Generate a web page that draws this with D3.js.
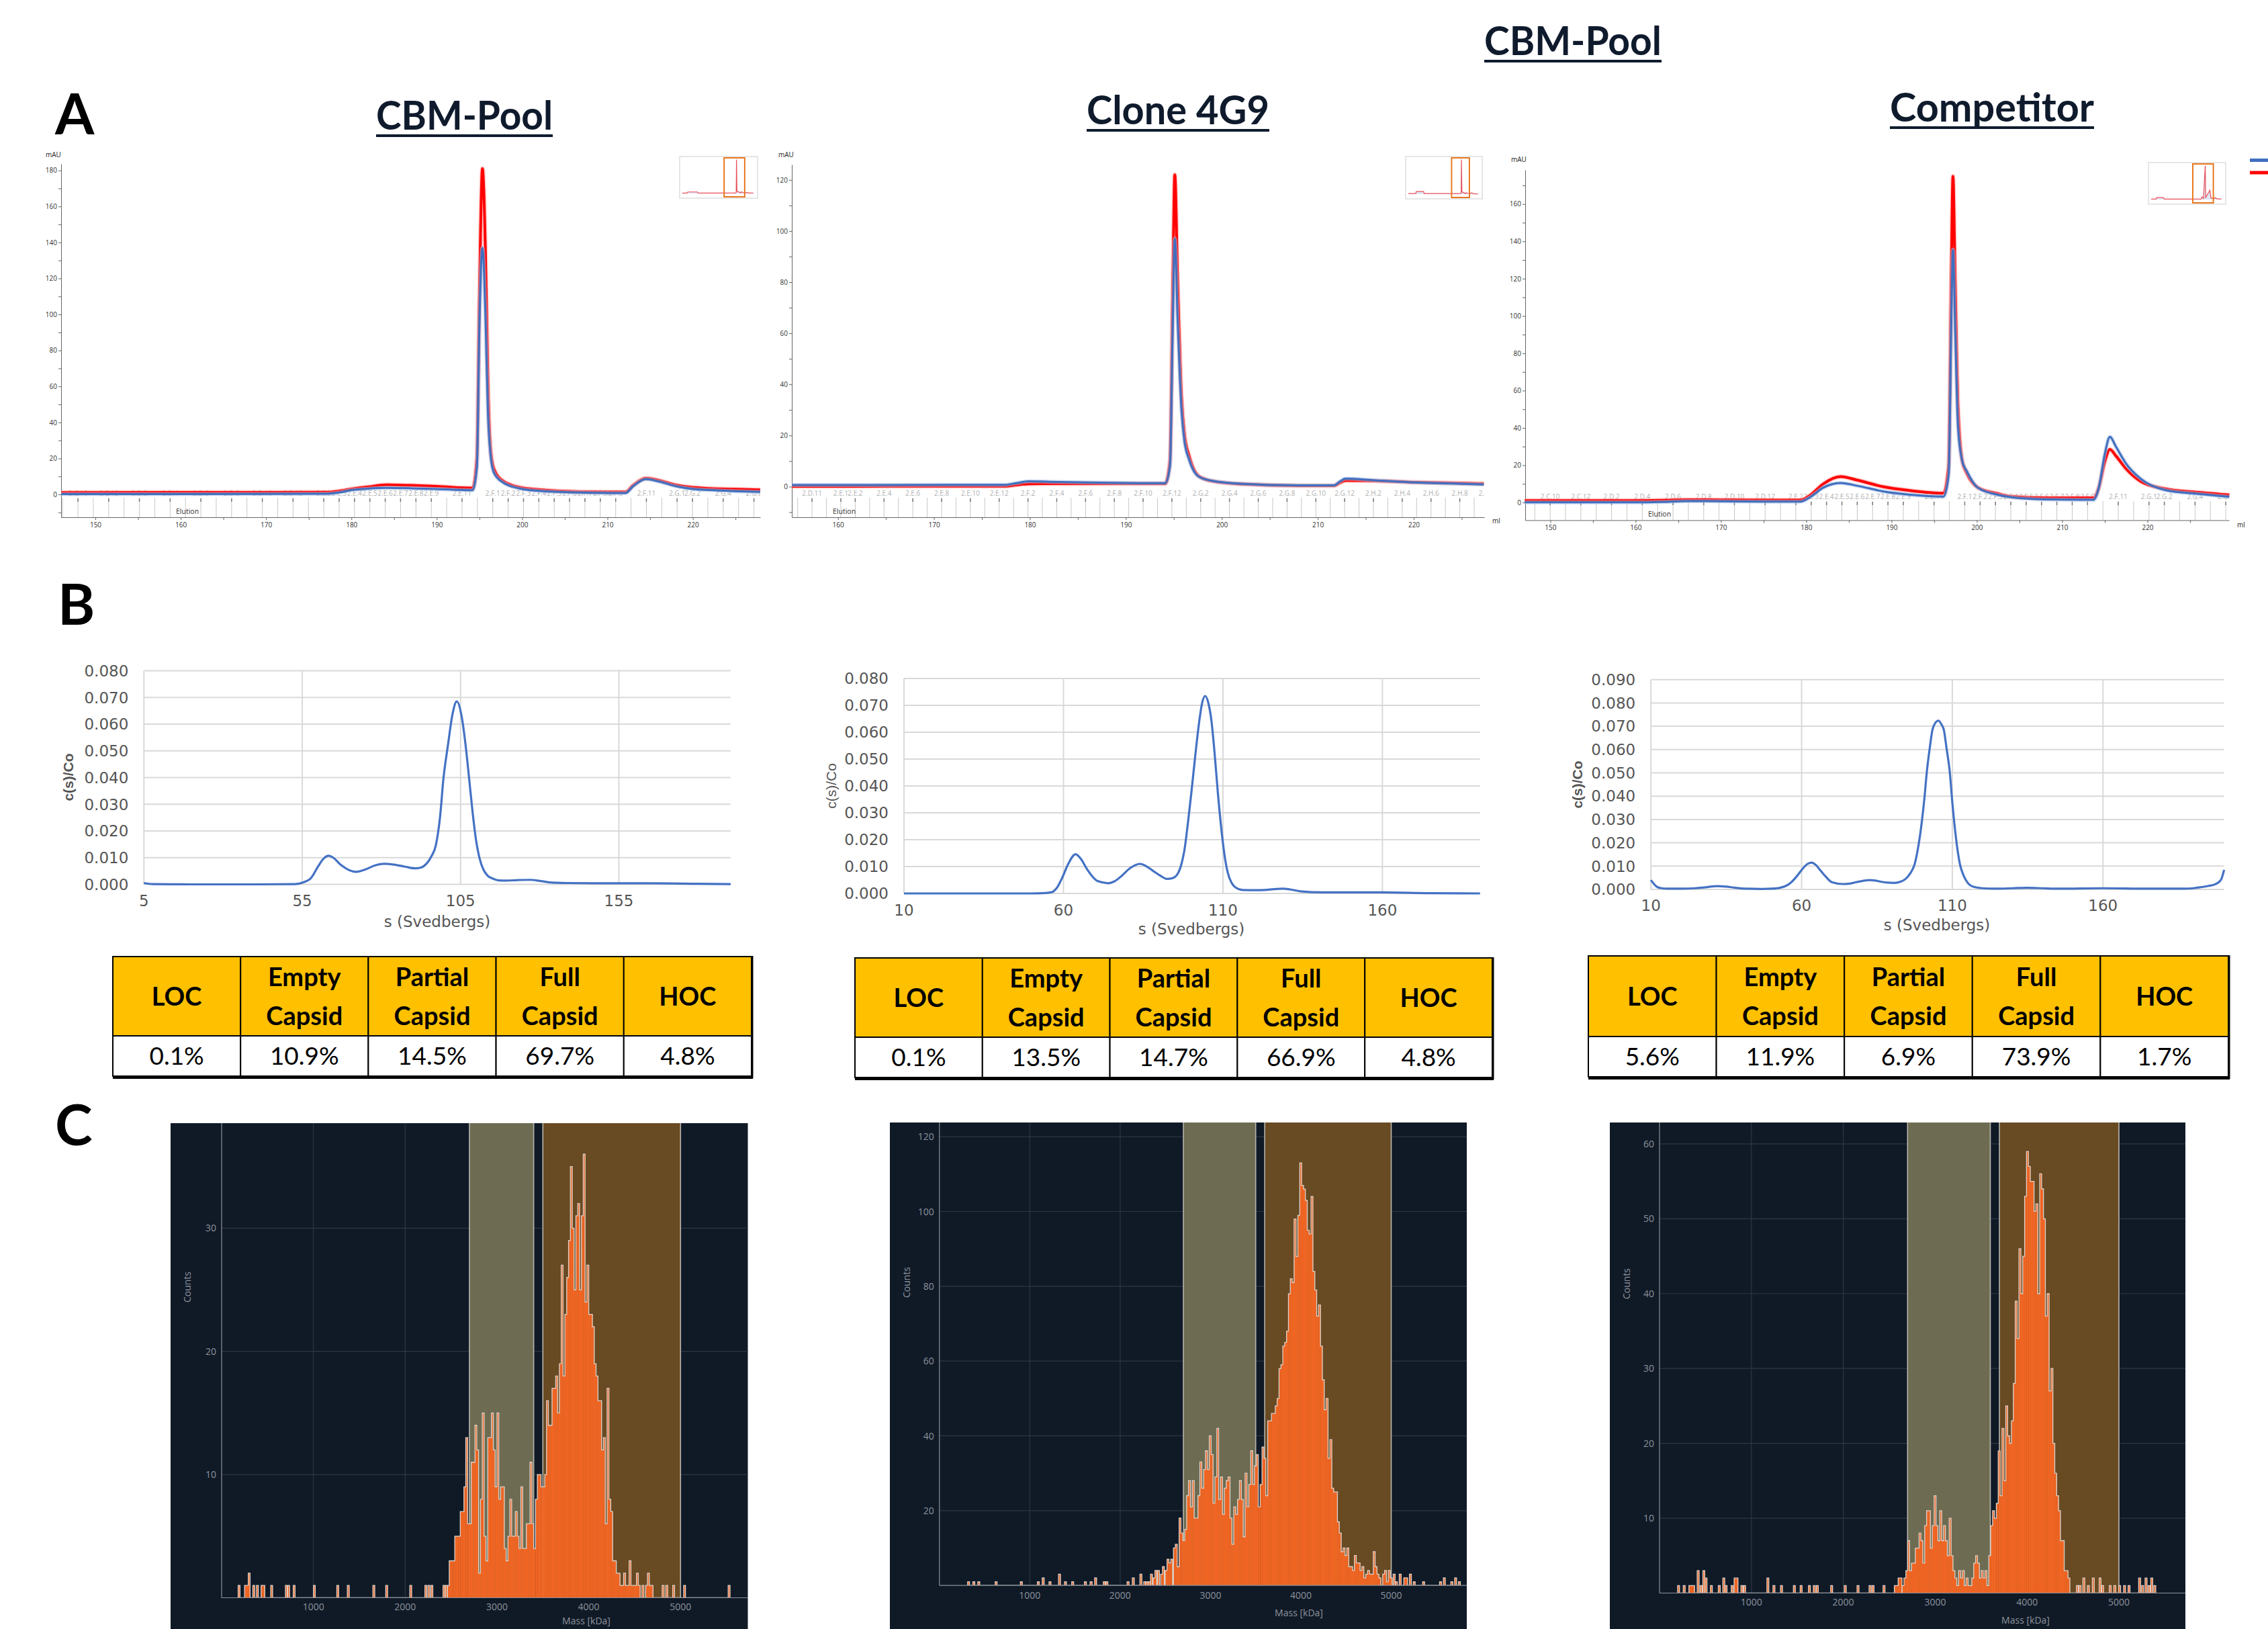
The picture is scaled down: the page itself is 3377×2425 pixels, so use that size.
<!DOCTYPE html>
<html>
<head>
<meta charset="utf-8">
<script src="https://cdn.jsdelivr.net/npm/d3@7"></script>
<style>
  body { margin: 0; background: #fff; }
  svg { display: block; }
</style>
</head>
<body>
<div id="container"></div>
<script>
// ---------------- data ----------------
var sampleNames = ["CBM-Pool", "Clone 4G9", "Competitor"];
var overallTitle = "CBM-Pool";

// A: SEC chromatograms, elution volume (ml) vs absorbance (mAU)
var secMl1   = [146, 160, 170, 177.2, 178.5, 180, 182, 184.1, 187, 190, 194.2, 194.7, 195.0, 195.35, 195.7, 196.0, 196.3, 196.7, 197.8, 199.8, 202, 204.3, 209.8, 212.1, 213, 214.5, 216, 218, 219.7, 222, 225, 227.9];
var secRed1  = [1.0, 1.1, 1.1, 1.2, 1.8, 3.0, 4.2, 5.3, 5.0, 4.5, 3.5, 20, 110, 181, 135, 60, 25, 14, 7.3, 3.8, 2.6, 1.9, 1.3, 1.3, 5, 9.0, 7.8, 5.2, 4.0, 3.3, 2.9, 2.5];
var secBlue1 = [0.15, 0.2, 0.3, 0.4, 1.0, 2.4, 3.2, 3.6, 3.4, 3.0, 2.3, 15, 95, 137, 100, 45, 22, 12, 6.5, 3.2, 2.0, 1.4, 0.8, 0.7, 4.5, 8.5, 7.2, 4.6, 3.2, 2.4, 1.8, 1.4];

var secMl2   = [155.2, 165, 177.4, 178.5, 179.9, 182, 186, 190, 194.1, 194.6, 194.9, 195.1, 195.4, 195.8, 196.1, 196.6, 197.6, 199.1, 202.1, 208, 211.7, 212.3, 212.9, 215.9, 220.3, 224, 227.3];
var secRed2  = [0.1, 0.15, 0.2, 0.6, 1.1, 1.15, 1.15, 1.15, 1.15, 10, 80, 122, 80, 35, 20.6, 11.9, 4.1, 2.1, 1.0, 0.4, 0.4, 1.5, 2.4, 2.3, 1.7, 1.4, 1.15];
var secBlue2 = [0.6, 0.65, 0.7, 1.3, 2.1, 1.9, 1.6, 1.4, 1.35, 8, 65, 97, 65, 30, 18, 10.5, 3.9, 2.2, 1.1, 0.5, 0.5, 2.0, 3.1, 2.5, 1.6, 1.2, 0.8];

var secMl3   = [147, 160, 163, 166, 170, 175, 179.3, 180.5, 182, 184, 186, 189, 192, 196.1, 196.7, 197.0, 197.2, 197.45, 197.8, 198.3, 198.8, 200.1, 202.4, 204.1, 208, 213.7, 214.3, 215, 215.6, 216.3, 217.5, 219.2, 222, 226, 229.6];
var secRed3  = [1.05, 1.05, 1.2, 1.5, 1.4, 1.3, 1.3, 4, 10, 13.9, 12, 8.5, 6.5, 5.0, 20, 120, 174.8, 120, 50, 22, 16, 8.1, 4.8, 3.2, 2.5, 2.5, 8, 22, 28.5, 25, 18.1, 11.4, 7.4, 5.4, 4.1];
var secBlue3 = [0.1, 0.1, 0.3, 0.75, 0.7, 0.5, 0.5, 3, 8, 10.5, 9, 6, 4.3, 3.2, 15, 95, 135.5, 95, 40, 22, 17, 8, 4.2, 2.8, 1.7, 1.5, 8, 26, 35.2, 30, 20.8, 12.8, 6.8, 4.6, 3.1];

// fraction labels shown on each chromatogram
var fracShown1 = ["2.C.10","2.C.12","2.D.2","2.D.4","2.D.6","2.D.8","2.D.10","2.D.12","2.E.2","2.E.3","2.E.4","2.E.5","2.E.6","2.E.7","2.E.8","2.E.9","2.E.11","2.F.1","2.F.2","2.F.3","2.F.4","2.F.5","2.F.6","2.F.7","2.F.8","2.F.9","2.F.11","2.G.1","2.G.2","2.G.4","2.G.6"];
var fracShown2 = ["2.D.11","2.E.1","2.E.2","2.E.4","2.E.6","2.E.8","2.E.10","2.E.12","2.F.2","2.F.4","2.F.6","2.F.8","2.F.10","2.F.12","2.G.2","2.G.4","2.G.6","2.G.8","2.G.10","2.G.12","2.H.2","2.H.4","2.H.6","2.H.8","2.H.10"];
var fracShown3 = fracShown1;
var fracStartMl = [147.96, 157.3, 149.98];
var fracStepMl = [1.8, 1.5, 1.8];

// overview insets (whole run)
var ovMl1 = [-20, 0, 2, 40, 42, 190, 194, 195.3, 197, 212, 214, 222, 232, 236, 245, 262];
var ovAu1 = [2, 2, 8, 8, 2, 2, 4, 181, 12, 3, 9, 4, 3, 6, 2, 2];
var ovMl2 = [-20, 10, 12, 42, 44, 190, 194, 195.1, 197, 212, 214, 222, 232, 236, 245, 262];
var ovAu2 = [2, 2, 9, 9, 2, 2, 3, 122, 8, 2, 5, 3, 2, 5, 1, 1];
var ovMl3 = [-20, 0, 2, 30, 32, 180, 184, 190, 197.2, 199, 215.6, 220, 232, 236, 245, 262];
var ovAu3 = [2, 2, 10, 10, 2, 2, 14, 6, 175, 10, 48, 8, 4, 10, 3, 3];

// B: sedimentation coefficient distributions c(s)/Co
var sedS1 = [5, 8, 20, 40, 52.6, 55.5, 57.8, 60, 61.8, 63.3, 65, 67, 69.5, 72, 75, 78, 80.9, 84, 87.5, 90.6, 92.5, 94.2, 95.8, 97.2, 98.5, 99.6, 101, 102.5, 103.8, 105.4, 106.6, 107.7, 108.8, 109.9, 111, 112.2, 113.5, 115.1, 117, 119.5, 123, 126.9, 130, 132.8, 138.7, 150, 165, 180, 190.3];
var sedC1 = [0.0005, 0.0001, 0, 0, 0.0001, 0.0008, 0.0024, 0.0067, 0.0097, 0.0107, 0.0098, 0.0075, 0.0055, 0.0047, 0.0056, 0.0071, 0.0077, 0.0074, 0.0066, 0.006, 0.0063, 0.0077, 0.0105, 0.0147, 0.025, 0.0397, 0.052, 0.064, 0.0685, 0.0625, 0.052, 0.0397, 0.027, 0.0165, 0.0098, 0.0056, 0.0033, 0.0022, 0.0015, 0.0014, 0.0016, 0.0017, 0.0013, 0.0008, 0.0005, 0.0004, 0.0004, 0.0002, 0.0001];
var sedS2 = [10, 30, 50, 53.3, 56.1, 58, 59.6, 61.5, 63.8, 65.5, 67.3, 70.7, 74, 76, 78.4, 81, 84, 86, 88.2, 90.5, 92.4, 94.2, 95.9, 97, 98, 99, 100.1, 101.3, 102.4, 103.5, 104.4, 105.4, 106.4, 107.4, 108.4, 109.5, 110.5, 111.5, 112.6, 114, 116.1, 120, 123.1, 126, 128.7, 131, 134.3, 141.3, 159.5, 175, 190.6];
var sedC2 = [0, 0, 0, 0.0001, 0.0004, 0.0022, 0.0058, 0.011, 0.0146, 0.0128, 0.0092, 0.0046, 0.0038, 0.0045, 0.0067, 0.0095, 0.011, 0.0101, 0.0083, 0.0065, 0.0054, 0.0057, 0.0075, 0.011, 0.0167, 0.026, 0.0375, 0.051, 0.0625, 0.071, 0.0735, 0.071, 0.0642, 0.052, 0.0375, 0.024, 0.0142, 0.0078, 0.0042, 0.0022, 0.0013, 0.0012, 0.0013, 0.0016, 0.0018, 0.0015, 0.0008, 0.0004, 0.0004, 0.0001, 0];
var sedS3 = [10, 11.9, 13.5, 15.6, 20, 24.6, 28, 32, 35, 38, 42, 46.9, 50, 52.8, 54.8, 56.6, 58.5, 60.3, 61.8, 63.3, 64.8, 66.2, 68, 70, 73.7, 76, 78.1, 80.5, 82.6, 84.5, 86.3, 88.5, 90.8, 92.8, 94.5, 96, 97.5, 98.6, 99.7, 100.7, 101.6, 102.5, 103.4, 104.4, 105.4, 106.3, 107.2, 108.1, 109.1, 110.1, 111.2, 112.5, 113.9, 115.3, 116.8, 120, 124.3, 130, 134.7, 140, 145.1, 160, 175, 186.8, 190, 192.7, 195, 197.2, 198.4, 199.3, 200.2];
var sedC3 = [0.004, 0.0012, 0.0005, 0.0003, 0.0003, 0.0005, 0.0009, 0.0014, 0.0012, 0.0007, 0.0003, 0.0002, 0.0003, 0.0007, 0.0015, 0.0031, 0.0058, 0.0088, 0.0108, 0.0115, 0.0104, 0.0082, 0.0055, 0.0031, 0.0023, 0.0025, 0.0031, 0.0037, 0.004, 0.0038, 0.0033, 0.0029, 0.0028, 0.0033, 0.0045, 0.0068, 0.0108, 0.0175, 0.0271, 0.0385, 0.0511, 0.0605, 0.0684, 0.0715, 0.0724, 0.071, 0.0684, 0.0605, 0.0511, 0.036, 0.0223, 0.011, 0.0055, 0.0025, 0.0012, 0.0005, 0.0003, 0.0005, 0.0007, 0.0005, 0.0003, 0.0005, 0.0003, 0.0003, 0.0005, 0.001, 0.0015, 0.0022, 0.0031, 0.0045, 0.0084];
var sedXTicks1 = [5, 55, 105, 155];
var sedXTicks2 = [10, 60, 110, 160];
var sedXTicks3 = [10, 60, 110, 160];

// capsid content tables
var tableHead = [["LOC"], ["Empty", "Capsid"], ["Partial", "Capsid"], ["Full", "Capsid"], ["HOC"]];
var tableVals1 = ["0.1%", "10.9%", "14.5%", "69.7%", "4.8%"];
var tableVals2 = ["0.1%", "13.5%", "14.7%", "66.9%", "4.8%"];
var tableVals3 = ["5.6%", "11.9%", "6.9%", "73.9%", "1.7%"];

// C: mass photometry histograms (kDa, counts)
var massStart1 = 2480, massBin1 = 20;
var massCounts1 = [3,3,3,5,5,5,7,7,9,13,6,6,11,11,14,12,2,8,15,5,3,13,13,15,12,9,15,8,9,9,4,3,5,8,5,5,7,5,4,9,4,4,6,6,11,6,4,8,10,10,9,9,10,16,14,14,17,17,18,15,19,27,18,23,26,29,35,30,25,31,32,25,31,36,24,27,23,23,22,19,18,16,16,12,13,6,17,8,7,3,3,2,2,1,1,2,1,1,3,1,1,1,2,1,0,1,0,1,2,1,1];
var massSparse1 = [[180,1],[250,1],[270,1],[290,2],[340,1],[380,1],[430,1],[450,1],[535,1],[695,1],[720,1],[780,1],[1000,1],[1255,1],[1370,1],[1648,1],[1788,1],[2050,1],[2215,1],[2248,1],[2281,1],[2412,1],[2437,1],[2460,1],[4800,1],[4840,1],[4915,1],[5034,1],[5519,1]];

var massStart2 = 2590, massBin2 = 20.86;
var massCounts2 = [10,11,5,18,14,12,15,24,28,21,28,18,18,24,33,26,31,36,31,40,35,22,29,42,23,29,19,26,28,29,18,11,21,19,23,28,23,13,30,21,27,36,27,32,35,21,27,37,34,24,44,44,46,46,48,50,58,59,64,65,68,78,82,81,98,88,99,113,107,106,103,95,94,104,84,79,72,75,64,55,47,50,34,39,26,25,25,17,14,9,10,8,10,5,5,4,8,6,6,4,5,2,3,4,3,3,9,5,3,2,0,3,4,1,4,2];
var massSparse2 = [[312,1],[370,1],[425,1],[617,1],[896,1],[1084,1],[1138,2],[1213,1],[1318,3],[1384,1],[1464,1],[1605,1],[1668,1],[1718,2],[1814,1],[1843,1],[2077,1],[2135,2],[2219,3],[2261,1],[2286,1],[2311,1],[2336,3],[2364,2],[2385,4],[2414,4],[2448,3],[2468,5],[2498,4],[2519,7],[2539,6],[2560,7],[5022,3],[5047,1],[5089,3],[5139,2],[5160,2],[5202,3],[5244,1],[5348,1],[5535,1],[5577,2],[5660,1],[5702,2],[5744,1]];

var massStart3 = 2640, massBin3 = 20.52;
var massCounts3 = [1,2,3,7,3,4,4,6,6,8,7,4,9,11,11,6,9,13,9,7,11,7,9,7,5,10,5,3,2,1,3,2,3,1,2,1,1,2,4,5,4,2,3,2,3,1,5,9,11,10,12,19,13,22,15,25,21,20,23,28,39,34,46,40,45,53,59,57,55,55,51,52,40,56,54,50,37,40,27,30,20,16,13,11,7,7,3,3,2];
var massSparse3 = [[197,1],[258,1],[320,1],[341,1],[361,1],[410,3],[443,1],[472,3],[496,2],[554,1],[640,1],[689,2],[714,1],[780,1],[812,2],[833,2],[886,1],[915,1],[1169,2],[1235,1],[1317,1],[1457,1],[1531,1],[1621,1],[1674,1],[1707,1],[1863,1],[2011,1],[2150,1],[2281,1],[2314,1],[2433,1],[2556,1],[2577,1],[2597,2],[2618,2],[4538,1],[4567,1],[4608,2],[4657,1],[4711,2],[4785,2],[4813,1],[4895,1],[4945,1],[4998,1],[5051,1],[5100,1],[5215,2],[5248,1],[5285,2],[5318,1],[5347,2],[5380,1]];

var massPartial1 = [2700, 3400], massFull1 = [3500, 5000];
var massPartial2 = [2700, 3500], massFull2 = [3600, 5000];
var massPartial3 = [2700, 3600], massFull3 = [3700, 5000];
var massXTicks = [1000, 2000, 3000, 4000, 5000];
var massYTicks1 = [10, 20, 30];
var massYTicks2 = [20, 40, 60, 80, 100, 120];
var massYTicks3 = [10, 20, 30, 40, 50, 60];

// ---------------- drawing ----------------
var W = 3377, H = 2425;
var headFont = "Lato, 'Open Sans', sans-serif";
var smallFont = "'Open Sans', 'DejaVu Sans', sans-serif";
var navy = "#0f1b2d";

var svg = d3.select("#container").append("svg")
    .attr("width", W).attr("height", H);
svg.append("rect").attr("width", W).attr("height", H).attr("fill", "#fff");
var defs = svg.append("defs");

// titles
function title(txt, x, base, len) {
  svg.append("text").attr("x", x).attr("y", base)
    .attr("textLength", len).attr("lengthAdjust", "spacingAndGlyphs")
    .attr("font-family", headFont).attr("font-weight", 700).attr("font-size", 59)
    .attr("fill", navy).text(txt);
  svg.append("rect").attr("x", x).attr("y", base + 7).attr("width", len).attr("height", 4).attr("fill", navy);
}
title(overallTitle, 2210, 82, 264);
title(sampleNames[0], 560, 193, 263);
title(sampleNames[1], 1618, 185, 272);
title(sampleNames[2], 2814, 181, 304);

function panelLetter(t, x, base) {
  svg.append("text").attr("x", x).attr("y", base).attr("font-family", headFont)
    .attr("font-weight", 700).attr("font-size", 84).attr("fill", "#000").text(t);
}
panelLetter("A", 82, 200);
panelLetter("B", 86, 930);
panelLetter("C", 82, 1705);

// ----- A: chromatograms -----
function fracIdx(s) { var p = s.split("."); return (p[1].charCodeAt(0) - 65) * 12 + (+p[2]); }

function styleAxis(a, col, size) {
  a.attr("font-family", smallFont).attr("font-size", size);
  a.select(".domain").attr("stroke", col);
  a.selectAll(".tick line").attr("stroke", col);
  a.selectAll(".tick text").attr("fill", "#333");
}

function drawSec(c, ml, red, blue, k, ovMl, ovAu) {
  var g = svg.append("g");
  var x = d3.scaleLinear().domain(c.xRef).range(c.xRefPx);
  x.domain([x.invert(c.left), x.invert(c.right)]).range([c.left, c.right]);
  var y = d3.scaleLinear().domain([0, c.yRef]).range([c.y0, c.yRefPx]);
  y.domain([y.invert(c.bottom), y.invert(c.top)]).range([c.bottom, c.top]);
  var xd = x.domain(), yd = y.domain();

  var cid = "clipSec" + k;
  defs.append("clipPath").attr("id", cid).append("rect")
    .attr("x", c.left).attr("y", c.top - 20).attr("width", c.right - c.left).attr("height", c.bottom - c.top + 20);

  // fraction band
  var fg = g.append("g").attr("clip-path", "url(#" + cid + ")");
  var shown = [fracShown1, fracShown2, fracShown3][k];
  var i0 = fracIdx(shown[0]), st = fracStartMl[k], sp = fracStepMl[k];
  var iLast = fracIdx(shown[shown.length - 1]);
  d3.range(i0 - 2, iLast + 3).forEach(function(i) {
    var v = st + (i - i0) * sp;
    if (v < xd[0] || v > xd[1]) return;
    fg.append("line").attr("x1", x(v)).attr("x2", x(v)).attr("y1", c.fracY + 6).attr("y2", c.bottom)
      .attr("stroke", "#c8c8c8").attr("stroke-width", 1);
  });
  shown.forEach(function(s) {
    var v = st + (fracIdx(s) - i0) * sp;
    fg.append("line").attr("x1", x(v)).attr("x2", x(v)).attr("y1", c.fracY + 7).attr("y2", c.fracY + 12)
      .attr("stroke", "#777").attr("stroke-width", 1.5);
    fg.append("text").attr("x", x(v)).attr("y", c.fracY + 3).attr("text-anchor", "middle")
      .attr("font-family", smallFont).attr("font-size", 10).attr("fill", "#b0b0b0").text(s);
  });
  g.append("text").attr("x", c.elution[0]).attr("y", c.elution[1]).attr("font-family", smallFont)
    .attr("font-size", 10.5).attr("fill", "#333").text("Elution");

  // axes
  var yTicks = d3.range(Math.ceil(yd[0] / 10) * 10, yd[1], 10);
  var ya = g.append("g").attr("transform", "translate(" + c.left + ",0)")
    .call(d3.axisLeft(y).tickValues(yTicks).tickSize(4).tickPadding(2).tickSizeOuter(0)
      .tickFormat(function(v) { return (v >= 0 && v % 20 === 0) ? v : ""; }));
  styleAxis(ya, "#666", 10);
  var xTicks = d3.range(Math.ceil(xd[0] / 5) * 5, xd[1], 5);
  var xa = g.append("g").attr("transform", "translate(0," + c.bottom + ")")
    .call(d3.axisBottom(x).tickValues(xTicks).tickSize(4).tickPadding(4).tickSizeOuter(0)
      .tickFormat(function(v) { return v % 10 === 0 ? v : ""; }));
  styleAxis(xa, "#666", 10);
  g.append("text").attr("x", c.mau[0]).attr("y", c.mau[1]).attr("font-family", smallFont)
    .attr("font-size", 10).attr("fill", "#222").text("mAU");
  if (c.ml) g.append("text").attr("x", c.ml[0]).attr("y", c.ml[1]).attr("font-family", smallFont)
    .attr("font-size", 10).attr("fill", "#222").text("ml");

  // curves
  var pts = function(ys) { return ml.map(function(v, i) { return [v, ys[i]]; }); };
  var line = d3.line().x(function(d) { return x(d[0]); }).y(function(d) { return y(d[1]); })
    .curve(d3.curveMonotoneX);
  g.append("path").attr("d", line(pts(red))).attr("fill", "none").attr("stroke", "#ff8c8c")
    .attr("stroke-width", 7).attr("stroke-opacity", 0.45);
  g.append("path").attr("d", line(pts(red))).attr("fill", "none").attr("stroke", "#ff0000")
    .attr("stroke-width", 4);
  g.append("path").attr("d", line(pts(blue))).attr("fill", "none").attr("stroke", "#a9c0e6")
    .attr("stroke-width", 6).attr("stroke-opacity", 0.55);
  g.append("path").attr("d", line(pts(blue))).attr("fill", "none").attr("stroke", "#3f6fbf")
    .attr("stroke-width", 3);

  // overview inset
  var b = c.inset;
  g.append("rect").attr("x", b[0]).attr("y", b[1]).attr("width", b[2]).attr("height", b[3])
    .attr("fill", "#fff").attr("stroke", "#dedede").attr("stroke-width", 1.5);
  var ox = d3.scaleLinear().domain([-20, 263]).range([b[0] + 4, b[0] + b[2] - 6]);
  var oy = d3.scaleLinear().domain([0, d3.max(ovAu) * 1.03]).range([b[1] + b[3] - 7, b[1] + 3]);
  var ol = d3.line().x(function(d) { return ox(d[0]); }).y(function(d) { return oy(d[1]); });
  var ov = ovMl.map(function(v, i) { return [v, ovAu[i]]; });
  g.append("path").attr("d", d3.area().x(function(d) { return ox(d[0]); }).y0(oy(0)).y1(function(d) { return oy(d[1]); })(ov))
    .attr("fill", "#c9d6ee").attr("opacity", 0.6);
  g.append("path").attr("d", ol(ov)).attr("fill", "none").attr("stroke", "#e8505a").attr("stroke-width", 1.2);
  g.append("rect").attr("x", ox(xd[0])).attr("y", b[1] + 2).attr("width", ox(xd[1]) - ox(xd[0]))
    .attr("height", b[3] - 4).attr("fill", "none").attr("stroke", "#e8781e").attr("stroke-width", 2);
}

drawSec({xRef: [150, 220], xRefPx: [142, 1031.6], left: 91, right: 1132, yRef: 180, y0: 736, yRefPx: 253.7,
         top: 244, bottom: 770, fracY: 735, elution: [262, 765], mau: [68, 234],
         inset: [1012, 233, 116, 62]}, secMl1, secRed1, secBlue1, 0, ovMl1, ovAu1);
drawSec({xRef: [160, 220], xRefPx: [1247.7, 2105], left: 1179, right: 2210, yRef: 120, y0: 724.4, yRefPx: 267.8,
         top: 245, bottom: 770, fracY: 735, elution: [1240, 765], mau: [1159, 234], ml: [2222, 779],
         inset: [2093, 233, 114, 63]}, secMl2, secRed2, secBlue2, 1, ovMl2, ovAu2);
drawSec({xRef: [150, 220], xRefPx: [2308.4, 3197.5], left: 2271, right: 3319, yRef: 160, y0: 748.1, yRefPx: 303.7,
         top: 253, bottom: 774.4, fracY: 740, elution: [2454, 769], mau: [2250, 241], ml: [3331, 785],
         inset: [3199, 242, 115, 62]}, secMl3, secRed3, secBlue3, 2, ovMl3, ovAu3);
// legend swatches at the right edge (cut off)
svg.append("rect").attr("x", 3350).attr("y", 236).attr("width", 30).attr("height", 5).attr("fill", "#3f6fbf");
svg.append("rect").attr("x", 3350).attr("y", 254.5).attr("width", 30).attr("height", 5).attr("fill", "#ff0000");

// ----- B: c(s) distributions -----
function drawSed(c, s, cs, xTicks, yMax, boldTitle) {
  var g = svg.append("g");
  var x = d3.scaleLinear().domain(c.xRef).range(c.xRefPx);
  x.domain([c.xRef[0], x.invert(c.right)]).range([c.xRefPx[0], c.right]);
  var y = d3.scaleLinear().domain([0, yMax]).range([c.y0, c.yTop]);
  var yTicks = d3.range(0, yMax + 0.0001, 0.01);
  g.selectAll("line.h").data(yTicks).enter().append("line")
    .attr("x1", x.range()[0]).attr("x2", x.range()[1]).attr("y1", function(d) { return y(d); }).attr("y2", function(d) { return y(d); })
    .attr("stroke", "#d9d9d9").attr("stroke-width", 2);
  g.selectAll("line.v").data(xTicks).enter().append("line")
    .attr("x1", function(d) { return x(d); }).attr("x2", function(d) { return x(d); }).attr("y1", c.yTop).attr("y2", c.y0)
    .attr("stroke", "#d9d9d9").attr("stroke-width", 2);
  g.selectAll("text.y").data(yTicks).enter().append("text")
    .attr("x", x.range()[0] - 23).attr("y", function(d) { return y(d); }).attr("dy", "0.36em")
    .attr("text-anchor", "end").attr("font-family", "'DejaVu Sans', sans-serif").attr("font-size", 23)
    .attr("fill", "#555").text(d3.format(".3f"));
  g.selectAll("text.x").data(xTicks).enter().append("text")
    .attr("x", function(d) { return x(d); }).attr("y", c.xLabY).attr("dy", "0.36em")
    .attr("text-anchor", "middle").attr("font-family", "'DejaVu Sans', sans-serif").attr("font-size", 23)
    .attr("fill", "#555").text(function(d) { return d; });
  g.append("text").attr("x", c.xTitle[0]).attr("y", c.xTitle[1]).attr("dy", "0.36em")
    .attr("text-anchor", "middle").attr("font-family", "'DejaVu Sans', sans-serif").attr("font-size", 23)
    .attr("fill", "#555").text("s (Svedbergs)");
  g.append("text").attr("transform", "translate(" + c.yTitle[0] + "," + c.yTitle[1] + ") rotate(-90)")
    .attr("dy", "0.36em").attr("text-anchor", "middle").attr("font-family", "'Liberation Sans', Arial, sans-serif")
    .attr("font-size", 21).attr("font-weight", boldTitle ? 700 : 400).attr("fill", "#555").text("c(s)/Co");
  var line = d3.line().x(function(d) { return x(d[0]); }).y(function(d) { return y(d[1]); }).curve(d3.curveMonotoneX);
  g.append("path").attr("d", line(s.map(function(v, i) { return [v, cs[i]]; })))
    .attr("fill", "none").attr("stroke", "#4472c4").attr("stroke-width", 3.2).attr("stroke-linejoin", "round");
}
drawSed({xRef: [5, 155], xRefPx: [214.3, 921.5], right: 1088, y0: 1316.5, yTop: 998.5, xLabY: 1341,
         xTitle: [651, 1372], yTitle: [101, 1157]}, sedS1, sedC1, sedXTicks1, 0.08, true);
drawSed({xRef: [10, 160], xRefPx: [1346, 2058.4], right: 2203.7, y0: 1330, yTop: 1010, xLabY: 1355,
         xTitle: [1774, 1383], yTitle: [1237, 1170]}, sedS2, sedC2, sedXTicks2, 0.08, false);
drawSed({xRef: [10, 160], xRefPx: [2458.2, 3131.3], right: 3311.7, y0: 1324, yTop: 1011.7, xLabY: 1348,
         xTitle: [2884, 1377], yTitle: [2348, 1168]}, sedS3, sedC3, sedXTicks3, 0.09, true);

// ----- tables -----
function drawTable(t, vals) {
  var g = svg.append("g");
  var x = d3.scaleBand().domain(d3.range(tableHead.length)).range([t.left, t.right]);
  var cw = x.bandwidth();
  tableHead.forEach(function(h, i) {
    g.append("rect").attr("x", x(i)).attr("y", t.top).attr("width", cw).attr("height", t.mid - t.top)
      .attr("fill", "#ffc000").attr("stroke", "#000").attr("stroke-width", 2);
    g.append("rect").attr("x", x(i)).attr("y", t.mid).attr("width", cw).attr("height", t.bottom - t.mid)
      .attr("fill", "#fff").attr("stroke", "#000").attr("stroke-width", 2);
    var cy = (t.top + t.mid) / 2;
    h.forEach(function(line, j) {
      g.append("text").attr("x", x(i) + cw / 2).attr("y", cy + (j - (h.length - 1) / 2) * 58 + 13.5)
        .attr("text-anchor", "middle").attr("font-family", headFont).attr("font-weight", 700)
        .attr("font-size", 38).attr("fill", "#000").text(line);
    });
    g.append("text").attr("x", x(i) + cw / 2).attr("y", (t.mid + t.bottom) / 2 + 13)
      .attr("text-anchor", "middle").attr("font-family", headFont).attr("font-size", 37)
      .attr("fill", "#000").text(vals[i]);
  });
  g.append("rect").attr("x", t.left).attr("y", t.bottom - 1).attr("width", t.right - t.left + 2).attr("height", 5).attr("fill", "#000");
  g.append("rect").attr("x", t.right - 1).attr("y", t.top - 1).attr("width", 3.5).attr("height", t.bottom - t.top + 4).attr("fill", "#000");
}
drawTable({left: 168, right: 1119, top: 1424, mid: 1542, bottom: 1602}, tableVals1);
drawTable({left: 1273, right: 2222, top: 1426, mid: 1544, bottom: 1604}, tableVals2);
drawTable({left: 2365, right: 3318, top: 1423, mid: 1543, bottom: 1603}, tableVals3);

// ----- C: mass photometry -----
function drawMass(c, start, bw, counts, sparse, partial, full, yTicks, k) {
  var g = svg.append("g");
  var right = c.bx + c.bw;
  g.append("rect").attr("x", c.bx).attr("y", c.by).attr("width", c.bw).attr("height", H - c.by).attr("fill", "#101a27");
  var x = d3.scaleLinear().domain([0, 5000]).range([c.x0, c.x5000]);
  var y = d3.scaleLinear().domain([0, c.yRef]).range([c.y0, c.yRefPx]);
  var cid = "clipMass" + k;
  defs.append("clipPath").attr("id", cid).append("rect")
    .attr("x", c.x0).attr("y", c.by).attr("width", right - c.x0).attr("height", c.y0 - c.by);

  massXTicks.forEach(function(v) {
    g.append("line").attr("x1", x(v)).attr("x2", x(v)).attr("y1", c.by).attr("y2", c.y0)
      .attr("stroke", "#2c3644").attr("stroke-width", 1.2);
    g.append("text").attr("x", x(v)).attr("y", c.xLabY).attr("text-anchor", "middle")
      .attr("font-family", smallFont).attr("font-size", 14).attr("fill", "#8d939c").text(v);
  });
  yTicks.forEach(function(v) {
    g.append("line").attr("x1", c.x0).attr("x2", right).attr("y1", y(v)).attr("y2", y(v))
      .attr("stroke", "#2c3644").attr("stroke-width", 1.2);
    g.append("text").attr("x", c.x0 - 8).attr("y", y(v)).attr("dy", "0.36em").attr("text-anchor", "end")
      .attr("font-family", smallFont).attr("font-size", 14).attr("fill", "#8d939c").text(v);
  });
  var cg = g.append("g").attr("clip-path", "url(#" + cid + ")");
  [[partial, "#6d6c52"], [full, "#684a23"]].forEach(function(r) {
    cg.append("rect").attr("x", x(r[0][0])).attr("y", c.by).attr("width", x(r[0][1]) - x(r[0][0]))
      .attr("height", c.y0 - c.by).attr("fill", r[1]);
    r[0].forEach(function(v) {
      cg.append("line").attr("x1", x(v)).attr("x2", x(v)).attr("y1", c.by).attr("y2", c.y0)
        .attr("stroke", "#b9b6ad").attr("stroke-width", 1.6);
    });
  });

  var bins = counts.map(function(n, i) { return {x0: start + i * bw, n: n}; })
    .concat(sparse.map(function(s) { return {x0: s[0], n: s[1]}; }))
    .filter(function(b) { return b.n > 0; })
    .sort(function(a, b) { return a.x0 - b.x0; });
  cg.selectAll("rect.bar").data(bins).enter().append("rect")
    .attr("x", function(d) { return x(d.x0); }).attr("width", x(bw) - x(0) + 0.3)
    .attr("y", function(d) { return y(d.n); }).attr("height", function(d) { return c.y0 - y(d.n); })
    .attr("fill", "#ef6523");
  // step outline of the histogram
  var pts = [], prevEnd = null;
  bins.forEach(function(b) {
    if (prevEnd === null || b.x0 - prevEnd > 0.5) {
      if (prevEnd !== null) pts.push([prevEnd, 0]);
      pts.push([b.x0, 0]);
    }
    pts.push([b.x0, b.n]); pts.push([b.x0 + bw, b.n]);
    prevEnd = b.x0 + bw;
  });
  pts.push([prevEnd, 0]);
  cg.append("path").attr("d", d3.line().x(function(d) { return x(d[0]); }).y(function(d) { return y(d[1]); })(pts))
    .attr("fill", "none").attr("stroke", "#d9d2cb").attr("stroke-width", 1.3);

  g.append("line").attr("x1", c.x0).attr("x2", c.x0).attr("y1", c.by).attr("y2", c.y0).attr("stroke", "#8a9099").attr("stroke-width", 1.2);
  g.append("line").attr("x1", c.x0).attr("x2", right).attr("y1", c.y0).attr("y2", c.y0).attr("stroke", "#8a9099").attr("stroke-width", 1.2);
  g.append("text").attr("transform", "translate(" + c.counts[0] + "," + c.counts[1] + ") rotate(-90)")
    .attr("dy", "0.36em").attr("text-anchor", "middle").attr("font-family", smallFont).attr("font-size", 14)
    .attr("fill", "#8d939c").text("Counts");
  g.append("text").attr("x", c.mass[0]).attr("y", c.mass[1]).attr("dy", "0.36em").attr("text-anchor", "middle")
    .attr("font-family", smallFont).attr("font-size", 14).attr("fill", "#8d939c").text("Mass [kDa]");
}
drawMass({bx: 254, by: 1672, bw: 859.5, x0: 330, x5000: 1013.3, y0: 2378.5, yRef: 10, yRefPx: 2195.1,
          xLabY: 2397, counts: [279, 1916], mass: [873, 2413]},
         massStart1, massBin1, massCounts1, massSparse1, massPartial1, massFull1, massYTicks1, 0);
drawMass({bx: 1325, by: 1671, bw: 859, x0: 1398.8, x5000: 2071.5, y0: 2360.1, yRef: 120, yRefPx: 1692.2,
          xLabY: 2380, counts: [1350, 1909], mass: [1934, 2401]},
         massStart2, massBin2, massCounts2, massSparse2, massPartial2, massFull2, massYTicks2, 1);
drawMass({bx: 2397, by: 1671, bw: 857, x0: 2471, x5000: 3155, y0: 2371.5, yRef: 60, yRefPx: 1702.9,
          xLabY: 2390, counts: [2422, 1911], mass: [3016, 2412]},
         massStart3, massBin3, massCounts3, massSparse3, massPartial3, massFull3, massYTicks3, 2);
</script>
</body>
</html>
